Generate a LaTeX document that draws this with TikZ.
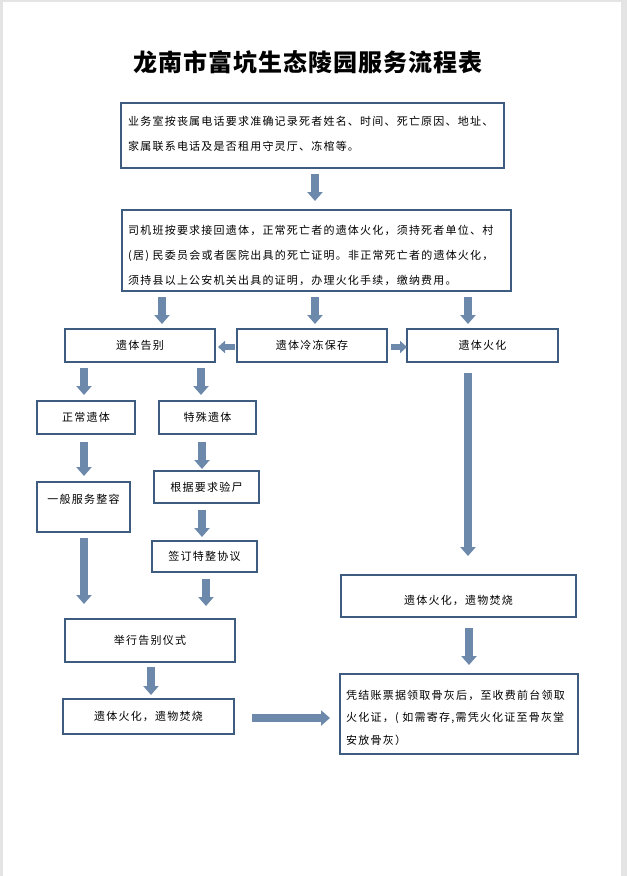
\documentclass[tikz,border=0pt]{standalone}
\usepackage{fontspec}
\usetikzlibrary{arrows.meta}
\newfontfamily\cjk{Noto Sans CJK SC}[LetterSpace=11]
\newfontfamily\cjktitle{Noto Sans CJK SC}[LetterSpace=4]
\definecolor{boxline}{RGB}{62,92,128}
\definecolor{arrowfill}{RGB}{108,136,170}
\definecolor{pageedge}{RGB}{228,228,228}
\tikzset{
  stepbox/.style={draw=boxline, line width=1.1pt, fill=white, inner sep=0pt, font=\cjk\fontsize{11}{25}\selectfont},
  flowtext/.style={align=left, inner sep=0pt, font=\cjk\fontsize{11}{25}\selectfont},
  barrow/.style={draw=arrowfill, line width=8pt, -{Triangle[width=15pt,length=9pt]}},
  sarrow/.style={draw=arrowfill, line width=6pt, -{Triangle[width=12pt,length=7pt]}}
}
\begin{document}
\begin{tikzpicture}[x=1pt,y=-1pt]
\useasboundingbox (0,0) rectangle (627,876);
\fill[pageedge] (0,0) rectangle (627,876);
\fill[white] (3,1.5) rectangle (621,876);

\node[font=\cjktitle\bfseries\fontsize{24}{28}\selectfont] (title) at (308,62) {龙南市富坑生态陵园服务流程表};

\node[stepbox, minimum width=383pt, minimum height=65pt] (b1) at (312.5,135.5) {};
\node[flowtext, anchor=west] (b1t) at (128,134) {业务室按丧属电话要求准确记录死者姓名、时间、死亡原因、地址、\\家属联系电话及是否租用守灵厅、冻棺等。};

\node[stepbox, minimum width=389pt, minimum height=81pt] (b2) at (316.5,250.5) {};
\node[flowtext, anchor=west] (b2t) at (128,255.5) {司机班按要求接回遗体，正常死亡者的遗体火化，须持死者单位、村\\(居) 民委员会或者医院出具的死亡证明。非正常死亡者的遗体火化，\\须持县以上公安机关出具的证明，办理火化手续，缴纳费用。};

\node[stepbox, minimum width=150pt, minimum height=33pt] (gaobie) at (140,345.5) {遗体告别};
\node[stepbox, minimum width=150pt, minimum height=33pt] (lengdong) at (312,345.5) {遗体冷冻保存};
\node[stepbox, minimum width=151pt, minimum height=33pt] (huohua) at (482.5,345.5) {遗体火化};

\node[stepbox, minimum width=98pt, minimum height=33pt] (zhengchang) at (86,417.5) {正常遗体};
\node[stepbox, minimum width=97pt, minimum height=33pt] (teshu) at (207.5,417.5) {特殊遗体};

\node[stepbox, minimum width=93pt, minimum height=50pt] (yiban) at (83.5,507) {};
\node[flowtext] (yibant) at (83.5,499) {一般服务整容};
\node[stepbox, minimum width=105pt, minimum height=32pt] (genju) at (206.5,487) {根据要求验尸};
\node[stepbox, minimum width=105pt, minimum height=31pt] (qianding) at (204.5,556.5) {签订特整协议};

\node[stepbox, minimum width=170pt, minimum height=43pt] (juxing) at (150,640.5) {举行告别仪式};
\node[stepbox, minimum width=171pt, minimum height=35pt] (leftfire) at (148.5,716.5) {遗体火化，遗物焚烧};

\node[stepbox, minimum width=235pt, minimum height=42pt] (rightfire) at (458.5,596) {};
\node[flowtext] (rightfiret) at (458.5,600) {遗体火化，遗物焚烧};

\node[stepbox, minimum width=238pt, minimum height=80pt] (final) at (459,714) {};
\node[flowtext, anchor=west, font=\cjk\fontsize{11}{22.5}\selectfont] (finalt) at (346,717.5) {凭结账票据领取骨灰后，至收费前台领取\\火化证，( 如需寄存,需凭火化证至骨灰堂\\安放骨灰）};

% arrow end points
\coordinate (p1a) at (315,174);  \coordinate (p1b) at (315,201);
\coordinate (p2a) at (162,297);  \coordinate (p2b) at (162,324);
\coordinate (p3a) at (315,297);  \coordinate (p3b) at (315,324);
\coordinate (p4a) at (468,297);  \coordinate (p4b) at (468,324);
\coordinate (h1a) at (235,347);  \coordinate (h1b) at (218,347);
\coordinate (h2a) at (391,347);  \coordinate (h2b) at (407,347);
\coordinate (l1a) at (468,373);  \coordinate (l1b) at (468,556);
\coordinate (g1a) at (84,368);   \coordinate (g1b) at (84,395);
\coordinate (g2a) at (201,368);  \coordinate (g2b) at (201,395);
\coordinate (z1a) at (84,442);   \coordinate (z1b) at (84,476);
\coordinate (t1a) at (202,442);  \coordinate (t1b) at (202,469);
\coordinate (t2a) at (202,510);  \coordinate (t2b) at (202,537);
\coordinate (y1a) at (84,538);   \coordinate (y1b) at (84,604);
\coordinate (q1a) at (206,579);  \coordinate (q1b) at (206,606);
\coordinate (j1a) at (151,667);  \coordinate (j1b) at (151,695);
\coordinate (r1a) at (252,718);  \coordinate (r1b) at (330,718);
\coordinate (f1a) at (469,628);  \coordinate (f1b) at (469,665);

\draw[barrow] (p1a) -- (p1b);
\draw[barrow] (p2a) -- (p2b);
\draw[barrow] (p3a) -- (p3b);
\draw[barrow] (p4a) -- (p4b);
\draw[sarrow] (h1a) -- (h1b);
\draw[sarrow] (h2a) -- (h2b);
\draw[barrow] (l1a) -- (l1b);
\draw[barrow] (g1a) -- (g1b);
\draw[barrow] (g2a) -- (g2b);
\draw[barrow] (z1a) -- (z1b);
\draw[barrow] (t1a) -- (t1b);
\draw[barrow] (t2a) -- (t2b);
\draw[barrow] (y1a) -- (y1b);
\draw[barrow] (q1a) -- (q1b);
\draw[barrow] (j1a) -- (j1b);
\draw[barrow] (r1a) -- (r1b);
\draw[barrow] (f1a) -- (f1b);
\end{tikzpicture}
\end{document}
